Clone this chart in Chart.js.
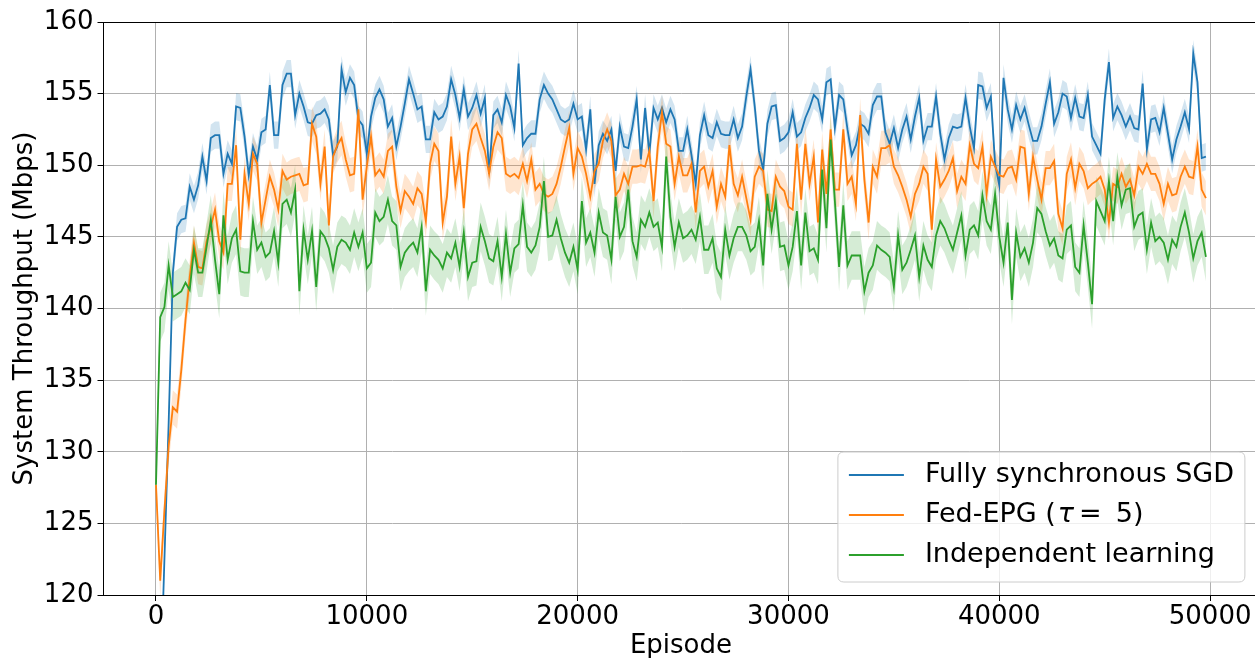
<!DOCTYPE html>
<html>
<head>
<meta charset="utf-8">
<script src="https://cdn.jsdelivr.net/npm/chart.js@4.4.1/dist/chart.umd.min.js"></script>
<style>
  html, body { margin: 0; padding: 0; background: #fff; overflow: hidden; }
  #wrap { position: relative; width: 1262px; height: 658px; }
</style>
</head>
<body>
<div id="wrap"><canvas id="c" width="1262" height="658"></canvas></div>
<script>
// Mean system throughput (Mbps) every 200 episodes, one value per logged point.
const syncSGD = [
  108.0, 113.0, 122.5, 132.0, 142.5, 145.7, 146.2, 146.3, 148.5, 147.6,
  148.6, 150.6, 148.9, 151.9, 152.1, 152.1, 149.4, 150.8, 150.1, 154.1,
  154.0, 152.0, 149.3, 151.3, 150.4, 152.3, 152.5, 155.6, 152.1, 152.1,
  155.6, 156.4, 156.4, 153.5, 155.0, 154.1, 153.0, 152.9, 153.5, 153.6,
  153.9, 153.2, 150.7, 151.3, 156.7, 155.1, 156.1, 155.6, 153.2, 152.8,
  150.8, 153.4, 154.7, 155.3, 154.6, 152.7, 153.3, 151.3, 152.7, 154.3,
  156.0, 155.0, 153.9, 154.1, 151.8, 151.8, 153.7, 153.2, 153.4, 154.1,
  156.0, 154.9, 153.3, 155.3, 153.4, 154.0, 154.9, 153.6, 154.7, 149.4,
  153.5, 153.9, 153.0, 154.9, 154.1, 152.6, 157.1, 151.4, 151.9, 152.2,
  152.2, 154.6, 155.6, 155.0, 154.6, 153.9, 153.2, 153.0, 153.2, 154.3,
  153.2, 153.4, 151.1, 153.9, 148.7, 151.4, 152.2, 151.7, 152.5, 149.6,
  152.7, 151.3, 151.2, 152.7, 154.6, 150.4, 154.0, 150.8, 154.0, 153.2,
  154.0, 153.0, 153.9, 153.2, 151.0, 151.0, 152.5, 150.7, 148.7, 152.1,
  153.5, 152.1, 151.9, 153.0, 152.2, 152.1, 152.1, 153.2, 151.9, 152.7,
  154.8, 156.7, 154.1, 151.0, 149.7, 152.9, 154.1, 154.2, 151.7, 151.9,
  152.3, 153.7, 152.0, 152.3, 153.3, 154.0, 154.9, 154.6, 153.2, 155.8,
  156.0, 152.6, 154.9, 154.6, 152.5, 150.7, 151.4, 152.9, 152.7, 152.2,
  154.2, 154.8, 154.8, 152.3, 151.5, 152.6, 151.2, 152.5, 153.4, 151.8,
  153.4, 154.7, 151.7, 152.7, 152.7, 154.8, 152.2, 150.4, 151.9, 152.7,
  152.6, 152.7, 154.7, 152.7, 151.2, 155.6, 155.5, 154.0, 154.8, 150.1,
  148.6, 156.1, 153.9, 152.5, 154.2, 153.2, 154.0, 152.8, 151.7, 151.7,
  152.7, 154.3, 155.8, 152.9, 153.7, 155.0, 154.8, 153.3, 154.7, 153.4,
  153.3, 154.9, 152.0, 151.4, 150.8, 154.6, 157.2, 153.3, 154.1, 153.5,
  152.7, 153.4, 152.6, 152.5, 155.7, 151.1, 153.2, 153.3, 152.3, 154.0,
  152.2, 150.4, 151.8, 152.7, 153.7, 152.5, 157.8, 155.8, 150.5, 150.6
];

const fedEPG = [
  127.7, 121.0, 125.9, 130.4, 133.1, 132.8, 135.7, 139.2, 142.2, 144.6,
  142.9, 142.8, 144.7, 145.7, 146.9, 144.7, 143.9, 148.7, 148.7, 151.4,
  144.8, 149.4, 147.3, 150.8, 150.1, 146.0, 147.6, 149.2, 148.3, 146.9,
  149.6, 149.0, 149.2, 149.3, 149.4, 148.6, 148.7, 152.9, 152.0, 148.7,
  151.3, 145.8, 150.6, 151.4, 151.9, 150.4, 149.3, 149.4, 153.9, 147.6,
  149.9, 152.0, 149.3, 149.7, 149.2, 151.0, 151.3, 148.5, 146.8, 148.2,
  147.8, 147.3, 148.4, 148.0, 146.1, 150.1, 151.5, 151.0, 146.0, 147.8,
  152.0, 148.7, 150.6, 147.0, 150.8, 152.5, 152.9, 151.9, 151.0, 149.4,
  151.3, 152.3, 151.9, 149.4, 149.2, 149.4, 149.1, 150.1, 148.9, 150.4,
  148.3, 148.7, 148.0, 147.8, 148.0, 148.7, 149.9, 151.3, 152.6, 149.4,
  151.2, 150.6, 149.4, 147.8, 149.6, 150.1, 151.7, 152.5, 151.7, 147.9,
  148.3, 149.4, 148.7, 149.9, 149.9, 150.0, 149.9, 151.0, 147.5, 151.3,
  153.7, 151.5, 151.3, 148.7, 150.6, 149.3, 149.3, 150.1, 146.7, 149.6,
  149.9, 148.5, 149.6, 147.1, 148.7, 147.8, 151.4, 148.7, 147.9, 149.2,
  147.7, 146.2, 149.2, 149.9, 149.6, 146.9, 146.8, 149.2, 148.5, 148.2,
  147.1, 146.9, 151.5, 147.6, 151.5, 148.7, 150.6, 146.0, 151.1, 148.0,
  152.5, 148.3, 148.3, 152.5, 148.7, 149.2, 147.3, 153.5, 149.0, 146.0,
  149.9, 149.2, 151.2, 151.2, 151.4, 149.9, 149.3, 148.5, 147.6, 146.4,
  148.0, 148.7, 149.9, 149.4, 145.5, 150.4, 148.5, 149.0, 149.6, 150.5,
  148.2, 149.2, 148.7, 151.4, 150.1, 149.8, 151.3, 148.0, 150.6, 149.9,
  149.3, 149.2, 149.8, 149.9, 149.0, 151.3, 151.2, 148.0, 150.6, 149.0,
  147.6, 149.8, 149.8, 150.3, 146.6, 145.6, 149.4, 150.4, 148.4, 150.1,
  149.6, 148.4, 148.7, 148.9, 149.2, 148.3, 146.0, 148.7, 148.5, 149.4,
  148.5, 149.0, 147.9, 149.9, 149.4, 150.1, 149.4, 149.4, 148.7, 147.3,
  148.7, 147.9, 148.0, 149.2, 149.9, 149.2, 149.1, 151.3, 148.3, 147.7
];

const independent = [
  127.7, 139.4, 140.1, 143.0, 140.8, 141.0, 141.2, 141.8, 141.3, 144.1,
  142.5, 142.5, 144.3, 146.2, 143.4, 141.0, 146.5, 143.4, 144.9, 145.5,
  142.6, 142.5, 142.5, 146.1, 144.1, 144.6, 143.6, 143.9, 145.4, 143.2,
  147.3, 147.6, 146.7, 148.3, 141.2, 145.5, 143.4, 145.4, 141.5, 145.4,
  145.0, 144.2, 142.7, 144.3, 144.8, 144.6, 144.1, 145.3, 144.3, 145.3,
  142.8, 143.2, 146.7, 146.1, 146.4, 147.6, 146.1, 145.8, 142.9, 143.9,
  144.3, 144.6, 143.9, 145.7, 141.2, 144.1, 143.7, 143.4, 142.8, 143.9,
  143.5, 144.6, 142.9, 145.3, 142.2, 143.2, 143.3, 145.7, 144.7, 143.5,
  143.3, 144.7, 142.2, 145.2, 142.5, 144.2, 144.5, 147.2, 144.3, 143.9,
  144.4, 145.7, 148.9, 145.0, 145.1, 146.2, 144.9, 143.9, 143.2, 144.3,
  142.7, 147.5, 144.6, 145.3, 143.9, 146.7, 145.3, 145.1, 143.4, 147.8,
  145.0, 145.7, 148.3, 144.7, 143.6, 146.2, 145.7, 146.7, 145.7, 146.0,
  144.3, 150.6, 146.4, 144.3, 146.0, 144.9, 145.1, 145.5, 144.8, 146.4,
  144.1, 144.1, 144.9, 142.8, 142.2, 145.5, 143.7, 144.9, 145.7, 145.7,
  145.1, 144.0, 144.3, 146.1, 143.0, 148.0, 145.5, 147.5, 144.3, 144.4,
  143.0, 144.3, 146.8, 143.0, 146.7, 144.0, 144.2, 143.4, 149.7, 145.6,
  151.8, 147.5, 142.9, 147.2, 143.0, 143.7, 143.7, 143.7, 141.2, 142.5,
  143.0, 144.4, 144.1, 143.9, 143.6, 141.5, 145.1, 142.7, 143.2, 144.1,
  145.1, 142.2, 144.4, 143.4, 142.9, 145.1, 146.1, 145.6, 144.8, 144.1,
  145.3, 146.5, 143.7, 145.5, 145.8, 145.1, 147.9, 146.1, 145.5, 148.0,
  145.0, 143.2, 146.0, 140.6, 145.3, 143.6, 144.2, 143.2, 144.6, 147.0,
  146.6, 145.4, 144.4, 144.9, 143.7, 143.5, 145.5, 145.8, 142.9, 142.5,
  145.8, 143.2, 140.3, 147.5, 146.8, 146.1, 148.9, 146.1, 149.2, 147.2,
  148.3, 148.4, 145.7, 146.5, 146.7, 144.1, 146.0, 144.7, 145.0, 144.6,
  143.4, 144.8, 144.3, 145.7, 146.7, 145.3, 143.5, 144.7, 145.3, 143.6
];

// Half-width of the shaded confidence band around each mean curve (Mbps).
const syncSGDBand = 0.95;
const fedEPGBand = 1.2;
const independentBand = 1.7;

const EPISODE_STEP = 200;
const episodes = syncSGD.map((_, i) => i * EPISODE_STEP);

const xTicks = [0, 10000, 20000, 30000, 40000, 50000];
const yTicks = [120, 125, 130, 135, 140, 145, 150, 155, 160];

const seriesNames = ['Fully synchronous SGD', 'Fed-EPG (\u03C4 = 5)', 'Independent learning'];
const seriesColors = ['#1f77b4', '#ff7f0e', '#2ca02c'];
const bandColors = ['rgba(31,119,180,0.2)', 'rgba(255,127,14,0.2)', 'rgba(44,160,44,0.2)'];

const FONT = 'DejaVu Sans';
const FS = 26;
const LEGEND_FS = 27;

function toPoints(vals, offset) {
  return vals.map((v, i) => ({ x: episodes[i], y: v + offset }));
}

function seriesDatasets(vals, band, k) {
  const base = k * 3;
  const order = 3 - k;
  return [
    { data: toPoints(vals, -band), borderColor: 'transparent', borderWidth: 0,
      pointRadius: 0, fill: false, order },
    { data: toPoints(vals, band), borderColor: 'transparent', borderWidth: 0,
      pointRadius: 0, fill: base, backgroundColor: bandColors[k], order },
    { label: seriesNames[k], data: toPoints(vals, 0), borderColor: seriesColors[k],
      borderWidth: 1.8, pointRadius: 0, fill: false, tension: 0, order }
  ];
}

const datasets = [
  ...seriesDatasets(syncSGD, syncSGDBand, 0),
  ...seriesDatasets(fedEPG, fedEPGBand, 1),
  ...seriesDatasets(independent, independentBand, 2)
];

// Top frame edge of the axes box.
const framePlugin = {
  id: 'frame',
  afterDraw(chart) {
    const { ctx, chartArea: a } = chart;
    ctx.save();
    ctx.strokeStyle = '#000';
    ctx.lineWidth = 1;
    ctx.beginPath();
    ctx.moveTo(a.left, a.top + 0.5);
    ctx.lineTo(a.right, a.top + 0.5);
    ctx.stroke();
    ctx.restore();
  }
};

// Framed legend in the lower right corner of the plot.
const legendPlugin = {
  id: 'cornerLegend',
  afterDraw(chart) {
    const { ctx, chartArea: a } = chart;
    const w = 407, h = 130, r = 6;
    const x = a.right - 13.5 - w, y = a.bottom - 13 - h;
    ctx.save();
    ctx.beginPath();
    ctx.moveTo(x + r, y);
    ctx.lineTo(x + w - r, y);
    ctx.quadraticCurveTo(x + w, y, x + w, y + r);
    ctx.lineTo(x + w, y + h - r);
    ctx.quadraticCurveTo(x + w, y + h, x + w - r, y + h);
    ctx.lineTo(x + r, y + h);
    ctx.quadraticCurveTo(x, y + h, x, y + h - r);
    ctx.lineTo(x, y + r);
    ctx.quadraticCurveTo(x, y, x + r, y);
    ctx.closePath();
    ctx.fillStyle = 'rgba(255,255,255,0.8)';
    ctx.fill();
    ctx.strokeStyle = '#cccccc';
    ctx.lineWidth = 1;
    ctx.stroke();

    const rowY = [y + 23, y + 63, y + 103];
    ctx.textBaseline = 'middle';
    ctx.fillStyle = '#000';
    const normal = LEGEND_FS + 'px "' + FONT + '"';
    const italic = 'italic ' + LEGEND_FS + 'px "' + FONT + '"';
    for (let k = 0; k < 3; k++) {
      ctx.strokeStyle = seriesColors[k];
      ctx.lineWidth = 1.8;
      ctx.beginPath();
      ctx.moveTo(x + 11, rowY[k]);
      ctx.lineTo(x + 66, rowY[k]);
      ctx.stroke();
      const tx = x + 87;
      ctx.font = normal;
      if (k === 1) {
        let cx = tx;
        const head = 'Fed-EPG (';
        ctx.fillText(head, cx, rowY[k]);
        cx += ctx.measureText(head).width + 2;
        ctx.font = italic;
        ctx.fillText('\u03C4', cx, rowY[k]);
        cx += ctx.measureText('\u03C4').width + 5;
        ctx.font = normal;
        ctx.fillText('=', cx, rowY[k]);
        cx += ctx.measureText('=').width + 14;
        ctx.fillText('5)', cx, rowY[k]);
      } else {
        ctx.fillText(seriesNames[k], tx, rowY[k]);
      }
    }
    ctx.restore();
  }
};

new Chart(document.getElementById('c'), {
  type: 'line',
  data: { datasets },
  options: {
    responsive: false,
    animation: false,
    devicePixelRatio: 1,
    layout: { padding: { top: 22, right: 3.6, bottom: 0, left: 0 } },
    plugins: {
      legend: { display: false },
      tooltip: { enabled: false },
      filler: { drawTime: 'beforeDatasetsDraw' }
    },
    scales: {
      x: {
        type: 'linear',
        min: -2490,
        max: 52290,
        afterBuildTicks: s => { s.ticks = xTicks.map(v => ({ value: v })); },
        afterFit: s => { s.height = 63; },
        ticks: {
          autoSkip: false, maxRotation: 0, padding: 1, color: '#000',
          font: { family: FONT, size: FS },
          callback: v => String(v)
        },
        grid: { color: '#b0b0b0', lineWidth: 1, tickLength: 6, tickColor: '#000', tickWidth: 1 },
        border: { color: '#000', width: 1 },
        title: {
          display: true, text: 'Episode', color: '#000',
          font: { family: FONT, size: FS }, padding: { top: 0, bottom: -4 }
        }
      },
      y: {
        type: 'linear',
        min: 120,
        max: 160,
        afterBuildTicks: s => { s.ticks = yTicks.map(v => ({ value: v })); },
        afterFit: s => { s.width = 103.5; },
        ticks: {
          padding: 4, color: '#000',
          font: { family: FONT, size: FS },
          callback: v => String(v)
        },
        grid: { color: '#b0b0b0', lineWidth: 1, tickLength: 6, tickColor: '#000', tickWidth: 1 },
        border: { color: '#000', width: 1 },
        title: {
          display: true, text: 'System Throughput (Mbps)', color: '#000',
          font: { family: FONT, size: FS }, padding: { top: 10, bottom: 0 }
        }
      }
    }
  },
  plugins: [framePlugin, legendPlugin]
});
</script>
</body>
</html>
